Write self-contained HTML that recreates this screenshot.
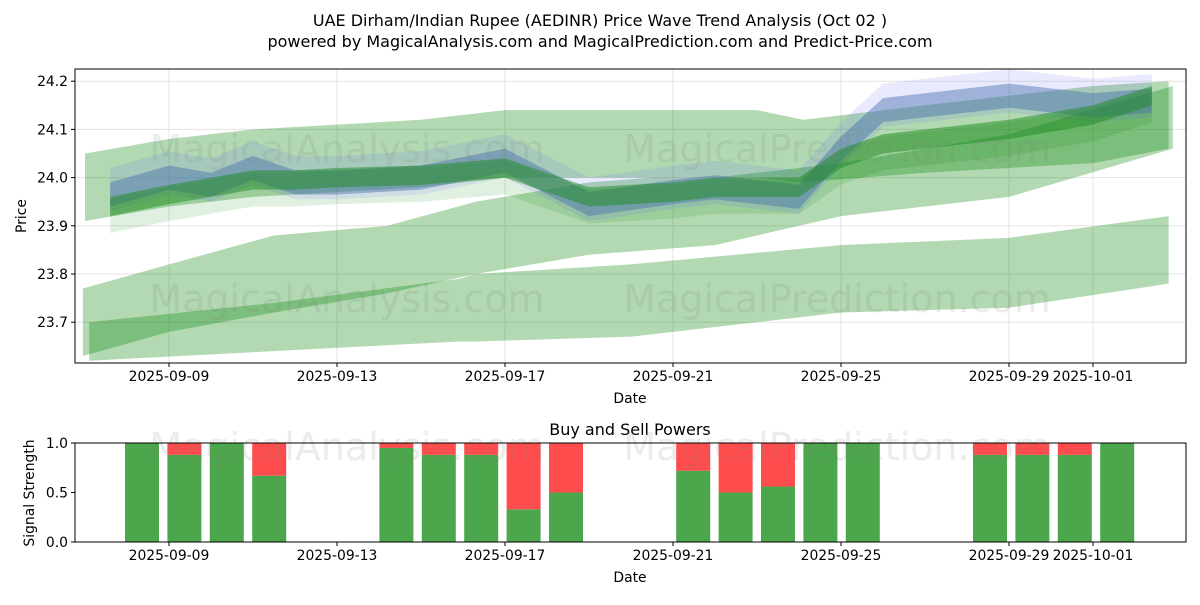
<!DOCTYPE html>
<html><head><meta charset="utf-8"><style>
body{margin:0;background:#fff;}
svg text{font-family:"DejaVu Sans","Liberation Sans",sans-serif;}
</style></head><body>
<svg id="chart" width="1200" height="600" xmlns="http://www.w3.org/2000/svg">
<rect width="1200" height="600" fill="#fff"/>
<text x="600" y="26" text-anchor="middle" font-size="16">UAE Dirham/Indian Rupee (AEDINR) Price Wave Trend Analysis (Oct 02 )</text>
<text x="600" y="47" text-anchor="middle" font-size="16">powered by MagicalAnalysis.com and MagicalPrediction.com and Predict-Price.com</text>
<g id="topPanel"></g>
<g id="botPanel"></g>
</svg>
<script>
// ---- data ----
const xTickLabels = ["2025-09-09","2025-09-13","2025-09-17","2025-09-21","2025-09-25","2025-09-29","2025-10-01"];
const xTickDays = [0,4,8,12,16,20,22];
const yTicks = [23.7,23.8,23.9,24.0,24.1,24.2];
const bandADays = [-2,0,2,4,6,8,10,12,14,15.1,18,20,22,23.8];
const bandAUpper = [24.05,24.08,24.10,24.11,24.12,24.14,24.14,24.14,24.14,24.12,24.15,24.17,24.19,24.20];
const bandALower = [23.91,23.94,23.96,23.97,23.98,24.00,24.00,24.00,24.00,23.99,24.01,24.02,24.03,24.06];
const bandBDays = [-2.05,0,2.5,5.2,7.3,10,11.5,13,16,20,23.9];
const bandBUpper = [23.77,23.82,23.88,23.90,23.95,23.99,24.00,24.00,24.03,24.09,24.19];
const bandBLower = [23.63,23.68,23.72,23.76,23.80,23.84,23.85,23.86,23.92,23.96,24.06];
const bandCDays = [-1.9,2.5,6.9,7.3,11,16,20,23.8];
const bandCUpper = [23.70,23.74,23.79,23.80,23.82,23.86,23.875,23.92];
const bandCLower = [23.62,23.64,23.66,23.66,23.67,23.72,23.73,23.78];
const waveDays = [-1.4,0,1,2,3,4,6,8,9,10,12,13,14,15,16,17,18,20,22,23.4];
const waveBlue = [23.965,24.0,23.985,24.02,23.99,23.99,24.0,24.035,23.99,23.945,23.97,23.98,23.97,23.96,24.06,24.14,24.15,24.17,24.15,24.16];
const waveGreen = [23.93,23.955,23.97,23.985,23.985,23.99,23.995,24.01,23.98,23.95,23.96,23.97,23.97,23.97,24.03,24.06,24.07,24.09,24.12,24.16];
const barDays = [0,1,2,3,6,7,8,9,10,13,14,15,16,17,20,21,22,23];
const buyPower = [1.0,0.88,1.0,0.67,0.95,0.88,0.88,0.33,0.5,0.72,0.5,0.56,1.0,1.0,0.88,0.88,0.88,1.0];

// ---- scales ----
const L=75,R=1186,T=69,B=363,BT=443,BB=542;
const xs=d=>169+42*d;
const ys=p=>177.6-(p-24.0)*482;
const xb=i=>142+42.4*i;
const yb=v=>BB-(BB-BT)*v;
const NS="http://www.w3.org/2000/svg";
const topG=document.getElementById('topPanel'),botG=document.getElementById('botPanel');
function mk(tag,attrs,parent){const e=document.createElementNS(NS,tag);for(const k in attrs)e.setAttribute(k,attrs[k]);parent.appendChild(e);return e;}

for(let i=0;i<xTickDays.length;i++){
  const x=xs(xTickDays[i]);
  const g=mk('line',{x1:x,x2:x,y1:T,y2:B,stroke:'#e3e3e3','stroke-width':1},topG);
  
  
}
for(const v of yTicks){
  const y=ys(v);
  const g=mk('line',{x1:L,x2:R,y1:y,y2:y,stroke:'#e3e3e3','stroke-width':1},topG);
  
  
}
function wm(t,x,y,p){const e=mk('text',{x:x,y:y,'text-anchor':'middle','font-size':38,fill:'rgba(128,128,128,0.15)'},p);e.textContent=t;
  
  }
function band(days,up,lo,fill,name){
  let pts=[];
  for(let i=0;i<days.length;i++)pts.push(xs(days[i])+','+ys(up[i]));
  for(let i=days.length-1;i>=0;i--)pts.push(xs(days[i])+','+ys(lo[i]));
  const p=mk('polygon',{points:pts.join(' '),fill:fill},topG);
  
  
}
function wave(vals,hw,fill,name,shift){
  band(waveDays,vals.map(v=>v+hw+shift),vals.map(v=>v-hw+shift),fill,name);
}
band(bandADays,bandAUpper,bandALower,'rgba(0,128,0,0.3)','forecast-band-upper');
band(bandBDays,bandBUpper,bandBLower,'rgba(0,128,0,0.3)','forecast-band-middle');
band(bandCDays,bandCUpper,bandCLower,'rgba(0,128,0,0.3)','forecast-band-lower');
wave(waveGreen,0.035,'rgba(0,128,0,0.12)','green-wave-wide',-0.01);
wave(waveBlue,0.045,'rgba(90,90,255,0.13)','blue-wave-wide',0.01);
wave(waveBlue,0.025,'rgba(70,110,170,0.45)','blue-wave',0);
wave(waveGreen,0.02,'rgba(30,140,30,0.5)','green-wave',0.01);
wm('MagicalAnalysis.com',347,162,topG);wm('MagicalPrediction.com',837,162,topG);
wm('MagicalAnalysis.com',347,312,topG);wm('MagicalPrediction.com',837,312,topG);
mk('rect',{x:L,y:T,width:R-L,height:B-T,fill:'none',stroke:'#000','stroke-width':1},topG);
for(let i=0;i<xTickDays.length;i++){
  const x=xs(xTickDays[i]);
  mk('line',{x1:x,x2:x,y1:B,y2:B+4,stroke:'#000'},topG);
  const t=mk('text',{x:x,y:B+18,'text-anchor':'middle','font-size':13.9},topG);t.textContent=xTickLabels[i];
  
  
}
for(const v of yTicks){
  const y=ys(v);
  mk('line',{x1:L-4,x2:L,y1:y,y2:y,stroke:'#000'},topG);
  const t=mk('text',{x:L-7,y:y+5,'text-anchor':'end','font-size':13.9},topG);t.textContent=v.toFixed(1);
  
  
}
let t1=mk('text',{x:630,y:403,'text-anchor':'middle','font-size':13.9},topG);t1.textContent='Date';


let t2=mk('text',{x:26,y:216,'text-anchor':'middle','font-size':13.9,transform:'rotate(-90 26 216)'},topG);t2.textContent='Price';



let bt=mk('text',{x:630,y:435,'text-anchor':'middle','font-size':16},botG);bt.textContent='Buy and Sell Powers';


for(let i=0;i<barDays.length;i++){
  const x=xb(barDays[i])-17,v=buyPower[i];
  const g=mk('rect',{x:x,y:yb(v),width:34,height:yb(0)-yb(v),fill:'#4ca64c'},botG);
  
  
  if(v<1){const r=mk('rect',{x:x,y:yb(1),width:34,height:yb(v)-yb(1),fill:'#ff4c4c'},botG);
    
    }
}
wm('MagicalAnalysis.com',347,460,botG);wm('MagicalPrediction.com',837,460,botG);
mk('rect',{x:L,y:BT,width:R-L,height:BB-BT,fill:'none',stroke:'#000','stroke-width':1},botG);
for(let i=0;i<xTickDays.length;i++){
  const x=xs(xTickDays[i]);
  mk('line',{x1:x,x2:x,y1:BB,y2:BB+4,stroke:'#000'},botG);
  const t=mk('text',{x:x,y:BB+18,'text-anchor':'middle','font-size':13.9},botG);t.textContent=xTickLabels[i];
  
  
}
for(const v of [0,0.5,1]){
  const y=yb(v);
  mk('line',{x1:L-4,x2:L,y1:y,y2:y,stroke:'#000'},botG);
  const t=mk('text',{x:L-7,y:y+5,'text-anchor':'end','font-size':13.9},botG);t.textContent=v.toFixed(1);
  
  
}
let t3=mk('text',{x:630,y:582,'text-anchor':'middle','font-size':13.9},botG);t3.textContent='Date';


let t4=mk('text',{x:34,y:493,'text-anchor':'middle','font-size':13.9,transform:'rotate(-90 34 493)'},botG);t4.textContent='Signal Strength';


</script>
</body></html>
